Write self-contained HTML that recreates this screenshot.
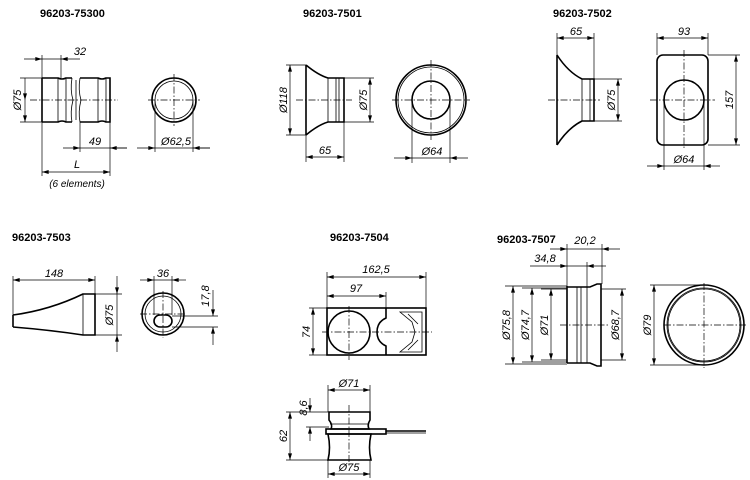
<!DOCTYPE html>
<html><head><style>
html,body{margin:0;padding:0;background:#fff;}
svg{display:block;}
text{font-family:"Liberation Sans",sans-serif;font-size:11px;font-style:italic;fill:#000;}
.t{font-weight:bold;font-style:normal;font-size:11px;}
.o{fill:none;stroke:#000;stroke-width:1.6;}
.f{fill:none;stroke:#000;stroke-width:0.8;}
.c{fill:none;stroke:#000;stroke-width:0.7;stroke-dasharray:7 2 1.5 2;}
.d{fill:none;stroke:#000;stroke-width:0.7;}
</style></head><body>
<svg width="750" height="480" viewBox="0 0 750 480" xmlns="http://www.w3.org/2000/svg">
<defs>
<marker id="a" viewBox="0 0 10 6" refX="10" refY="3" markerWidth="8" markerHeight="4" orient="auto-start-reverse" markerUnits="userSpaceOnUse"><path d="M0,0 L10,3 L0,6z"/></marker>
</defs>
<g class="d">
</g>
<!-- 96203-75300 -->
<text class="t" x="40" y="17">96203-75300</text>
<path class="o" d="M42,78 L58,78 Q62,80 66,78 L72,78 M42,122 L58,122 Q62,120 66,122 L72,122 M42,78 L42,122 M80,78 L98,78 Q102,80 106,78 L110,78 L110,122 L106,122 Q102,120 98,122 L80,122"/>
<path class="f" d="M58,78 L58,122 M66,78 L66,122 M98,78 L98,122 M106,78 L106,122 M72,78 Q70,90 73,100 Q70,112 72,122 M80,78 Q78,90 81,100 Q78,112 80,122 M76,80 L76,120"/>
<path class="c" d="M30,100 L118,100"/>
<path class="d" d="M20,78 L42,78 M20,122 L42,122 M42,55 L42,176 M61,55 L61,78 M110,122 L110,176 M80,122 L80,152"/>
<path class="d" marker-start="url(#a)" d="M25,100 L25,78"/><path class="d" marker-end="url(#a)" d="M25,100 L25,122"/>
<path class="d" marker-end="url(#a)" d="M24,59 L42,59"/><path class="d" marker-end="url(#a)" d="M80,59 L61,59"/><path class="d" d="M42,59 L61,59"/>
<path class="d" marker-end="url(#a)" d="M63,148 L80,148"/><path class="d" marker-end="url(#a)" d="M127,148 L110,148"/><path class="d" d="M80,148 L127,148"/>
<path class="d" marker-start="url(#a)" marker-end="url(#a)" d="M42,172 L110,172"/>
<text transform="translate(21,100) rotate(-90)" text-anchor="middle">Ø75</text>
<text x="80" y="55" text-anchor="middle">32</text>
<text x="95" y="145" text-anchor="middle">49</text>
<text x="77" y="168" text-anchor="middle">L</text>
<text x="77" y="187" text-anchor="middle" style="font-size:10px">(6 elements)</text>
<circle class="o" cx="174" cy="100" r="22"/><circle class="f" cx="174" cy="100" r="19"/>
<path class="c" d="M148,100 L200,100 M174,74 L174,126"/>
<path class="d" d="M155,100 L155,152 M193,100 L193,152"/>
<path class="d" marker-end="url(#a)" d="M137,148 L155,148"/><path class="d" marker-end="url(#a)" d="M210,148 L193,148"/><path class="d" d="M155,148 L210,148"/>
<text x="176" y="145" text-anchor="middle">Ø62,5</text>

<!-- 7501 -->
<text class="t" x="303" y="17">96203-7501</text>
<path class="o" d="M306,65 L306,135 M306,65 Q318,75 328,78 L344,78 L344,122 L328,122 Q318,125 306,135"/>
<path class="f" d="M328,78 L328,122 M336,78 L336,122 M339,78 L339,122"/>
<path class="c" d="M296,100 L352,100"/>
<path class="d" d="M286,65 L306,65 M286,135 L306,135 M344,78 L374,78 M344,122 L374,122 M306,135 L306,162 M344,122 L344,162"/>
<path class="d" marker-start="url(#a)" marker-end="url(#a)" d="M290,65 L290,135"/>
<path class="d" marker-start="url(#a)" marker-end="url(#a)" d="M370,78 L370,122"/>
<path class="d" marker-start="url(#a)" marker-end="url(#a)" d="M306,157 L344,157"/>
<text transform="translate(287,100) rotate(-90)" text-anchor="middle">Ø118</text>
<text transform="translate(367,100) rotate(-90)" text-anchor="middle">Ø75</text>
<text x="325" y="154" text-anchor="middle">65</text>
<circle class="o" cx="431" cy="100" r="35"/><circle class="f" cx="431" cy="100" r="33"/><circle class="o" cx="431" cy="100" r="19"/>
<path class="c" d="M392,100 L470,100 M431,60 L431,140"/>
<path class="d" d="M412,100 L412,163 M450,100 L450,163"/>
<path class="d" marker-end="url(#a)" d="M394,158 L412,158"/><path class="d" marker-end="url(#a)" d="M468,158 L450,158"/><path class="d" d="M412,158 L450,158"/>
<text x="432" y="155" text-anchor="middle">Ø64</text>

<!-- 7502 -->
<text class="t" x="553" y="17">96203-7502</text>
<path class="o" d="M557,55 L557,145 M557,55 Q568,72 582,79 L594,79 L594,121 L582,121 Q568,128 557,145"/>
<path class="f" d="M582,79 L582,121 M590,79 L590,121"/>
<path class="c" d="M548,100 L600,100"/>
<path class="d" d="M557,33 L557,55 M594,33 L594,79 M594,79 L622,79 M594,121 L622,121"/>
<path class="d" marker-start="url(#a)" marker-end="url(#a)" d="M557,38 L594,38"/>
<path class="d" marker-start="url(#a)" marker-end="url(#a)" d="M618,79 L618,121"/>
<text x="576" y="35" text-anchor="middle">65</text>
<text transform="translate(615,100) rotate(-90)" text-anchor="middle">Ø75</text>
<rect class="o" x="657" y="55" width="51" height="90" rx="6"/>
<circle class="o" cx="684" cy="100" r="20"/>
<path class="c" d="M650,100 L715,100 M684,50 L684,150"/>
<path class="d" d="M657,33 L657,55 M708,33 L708,55 M708,55 L740,55 M708,145 L740,145 M664,100 L664,170 M704,100 L704,170"/>
<path class="d" marker-start="url(#a)" marker-end="url(#a)" d="M657,38 L708,38"/>
<path class="d" marker-start="url(#a)" marker-end="url(#a)" d="M736,55 L736,145"/>
<path class="d" marker-end="url(#a)" d="M647,166 L664,166"/><path class="d" marker-end="url(#a)" d="M720,166 L704,166"/><path class="d" d="M664,166 L704,166"/>
<text x="684" y="35" text-anchor="middle">93</text>
<text transform="translate(733,100) rotate(-90)" text-anchor="middle">157</text>
<text x="684" y="163" text-anchor="middle">Ø64</text>

<!-- 7503 -->
<text class="t" x="12" y="241">96203-7503</text>
<path class="o" d="M13,315 L13,327 M13,315 Q50,310 83,294 L95,294 L95,335 L83,335 Q50,330 13,327"/>
<path class="f" d="M83,294 L83,335"/>
<path class="d" d="M13,276 L13,315 M95,276 L95,294 M95,294 L122,294 M95,335 L122,335"/>
<path class="d" marker-start="url(#a)" marker-end="url(#a)" d="M13,280 L95,280"/>
<path class="d" marker-end="url(#a)" d="M117,276 L117,294"/><path class="d" marker-end="url(#a)" d="M117,352 L117,335"/><path class="d" d="M117,294 L117,335"/>
<text x="54" y="277" text-anchor="middle">148</text>
<text transform="translate(113,315) rotate(-90)" text-anchor="middle">Ø75</text>
<circle class="o" cx="163" cy="314" r="21"/><circle class="f" cx="163" cy="314" r="18"/>
<rect class="o" x="154" y="315" width="18" height="12" rx="6"/>
<path class="c" d="M140,314 L186,314 M163,291 L163,338"/>
<path class="d" d="M154,276 L154,315 M172,276 L172,315 M172,316 L218,316 M172,327 L218,327"/>
<path class="d" marker-end="url(#a)" d="M140,280 L154,280"/><path class="d" marker-end="url(#a)" d="M186,280 L172,280"/><path class="d" d="M154,280 L172,280"/>
<path class="d" marker-end="url(#a)" d="M213,290 L213,316"/><path class="d" marker-end="url(#a)" d="M213,345 L213,327"/>
<text x="163" y="277" text-anchor="middle">36</text>
<text transform="translate(209,296) rotate(-90)" text-anchor="middle">17,8</text>

<!-- 7504 -->
<text class="t" x="330" y="241">96203-7504</text>
<rect class="o" x="327" y="308" width="99" height="47"/>
<circle class="o" cx="349" cy="332" r="21"/>
<path class="o" d="M386,308 L386,318 Q377,322 377,332 Q377,342 386,346 L386,355"/>
<path class="f" d="M400,312 L422,312 L422,352 L400,352 L412,342 L415,332 L412,322 Z M408,314 L418,324 M408,350 L418,340"/>
<path class="c" d="M322,332 L432,332 M349,306 L349,360"/>
<path class="d" d="M327,272 L327,308 M426,272 L426,308 M386,292 L386,308 M309,308 L327,308 M309,355 L327,355"/>
<path class="d" marker-start="url(#a)" marker-end="url(#a)" d="M327,277 L426,277"/>
<path class="d" marker-start="url(#a)" marker-end="url(#a)" d="M327,296 L386,296"/>
<path class="d" marker-start="url(#a)" marker-end="url(#a)" d="M313,308 L313,355"/>
<text x="376" y="273" text-anchor="middle">162,5</text>
<text x="356" y="292" text-anchor="middle">97</text>
<text transform="translate(310,332) rotate(-90)" text-anchor="middle">74</text>
<path class="o" d="M329,412 L370,412 L370,420 Q367,425 369,429 L331,429 Q333,425 329,420 Z M328,434 L371,434 Q368,448 371,460 L328,460 Q331,448 328,434 Z"/>
<rect class="o" x="326" y="429" width="60" height="5"/>
<path class="o" d="M386,431 L426,431"/><path class="f" d="M386,433 L426,433"/>
<path class="f" d="M330,424 L369,424"/>
<path class="c" d="M349,405 L349,466"/>
<path class="d" d="M328,385 L328,412 M370,385 L370,412 M328,460 L328,478 M370,460 L370,478 M286,412 L329,412 M306,427 L329,427 M286,460 L329,460"/>
<path class="d" marker-start="url(#a)" marker-end="url(#a)" d="M328,390 L370,390"/>
<path class="d" marker-start="url(#a)" marker-end="url(#a)" d="M328,474 L370,474"/>
<path class="d" marker-start="url(#a)" marker-end="url(#a)" d="M290,412 L290,460"/>
<path class="d" marker-end="url(#a)" d="M310,398 L310,412"/><path class="d" marker-end="url(#a)" d="M310,441 L310,427"/>
<text x="349" y="387" text-anchor="middle">Ø71</text>
<text x="349" y="471" text-anchor="middle">Ø75</text>
<text transform="translate(287,436) rotate(-90)" text-anchor="middle">62</text>
<text transform="translate(307,408) rotate(-90)" text-anchor="middle">8,6</text>

<!-- 7507 -->
<text class="t" x="497" y="243">96203-7507</text>
<path class="o" d="M567,286 L567,363 M567,287 L590,287 L597,284 L601,284 L601,366 L597,366 L590,363 L567,363"/>
<path class="f" d="M577,287 L577,363 M581,287 L581,363 M587,287 L587,363 M548,289 L567,289 M548,360 L567,360"/>
<path class="c" d="M560,325 L610,325"/>
<path class="d" d="M567,244 L567,286 M602,244 L602,284 M587,262 L587,287 M505,286 L567,286 M522,288 L567,288 M541,289 L548,289 M541,360 L548,360 M522,362 L567,362 M505,364 L567,364 M601,289 L626,289 M601,360 L626,360"/>
<path class="d" marker-end="url(#a)" d="M550,249 L567,249"/><path class="d" marker-end="url(#a)" d="M620,249 L602,249"/><path class="d" d="M567,249 L602,249"/>
<path class="d" marker-end="url(#a)" d="M530,266 L567,266"/><path class="d" marker-end="url(#a)" d="M606,266 L587,266"/><path class="d" d="M567,266 L587,266"/>
<path class="d" marker-start="url(#a)" marker-end="url(#a)" d="M513,286 L513,364"/>
<path class="d" marker-start="url(#a)" marker-end="url(#a)" d="M532,288 L532,362"/>
<path class="d" marker-start="url(#a)" marker-end="url(#a)" d="M551,289 L551,360"/>
<path class="d" marker-start="url(#a)" marker-end="url(#a)" d="M622,289 L622,360"/>
<text x="585" y="244" text-anchor="middle">20,2</text>
<text x="545" y="262" text-anchor="middle">34,8</text>
<text transform="translate(510,325) rotate(-90)" text-anchor="middle">Ø75,8</text>
<text transform="translate(529,325) rotate(-90)" text-anchor="middle">Ø74,7</text>
<text transform="translate(548,325) rotate(-90)" text-anchor="middle">Ø71</text>
<text transform="translate(619,325) rotate(-90)" text-anchor="middle">Ø68,7</text>
<circle class="o" cx="704" cy="325" r="40"/><circle class="f" cx="704" cy="325" r="37"/><circle class="f" cx="704" cy="325" r="36"/>
<path class="c" d="M664,325 L746,325 M704,283 L704,368"/>
<path class="d" d="M650,285 L704,285 M650,365 L704,365"/>
<path class="d" marker-start="url(#a)" marker-end="url(#a)" d="M654,285 L654,365"/>
<text transform="translate(651,325) rotate(-90)" text-anchor="middle">Ø79</text>
</svg>
</body></html>
